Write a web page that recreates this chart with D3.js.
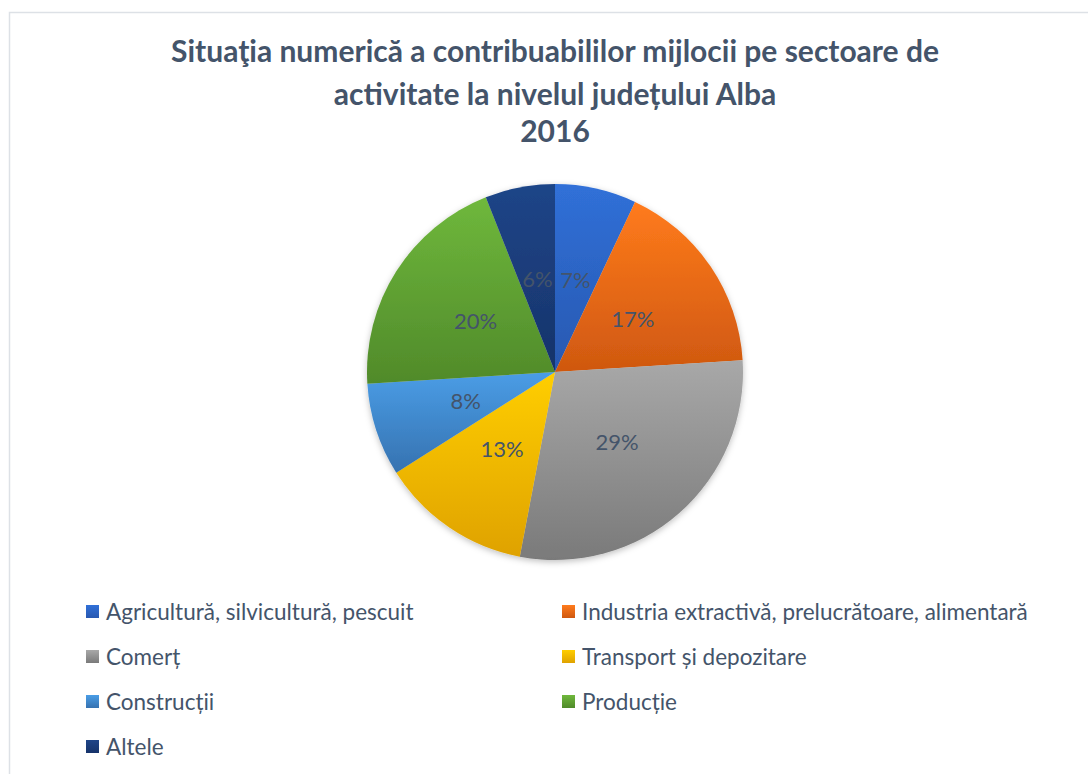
<!DOCTYPE html>
<html>
<head>
<meta charset="utf-8">
<script src="https://cdn.jsdelivr.net/npm/d3@7"></script>
<style>
  body { margin: 0; background: #fff; }
  svg { display: block; font-family: Lato, "Open Sans", sans-serif; }
</style>
</head>
<body>
<div id="chart"></div>
<script>
const titleLines = ["Situaţia numerică a contribuabililor mijlocii pe sectoare de", "activitate la nivelul județului Alba", "2016"];
const sectors = ["Agricultură, silvicultură, pescuit", "Industria extractivă, prelucrătoare, alimentară", "Comerț", "Transport și depozitare", "Construcții", "Producție", "Altele"];
const shares = [7, 17, 29, 13, 8, 20, 6];
const lightColors = ["#3070d8", "#ff7b1c", "#a8a8a8", "#ffce00", "#4a9de6", "#6fb83c", "#1f4588"];
const darkColors = ["#2858b0", "#cf5810", "#7a7a7a", "#dfa200", "#3672b0", "#508a2a", "#16336a"];

const width = 1088, height = 774;
const cx = 555, cy = 372, radius = 188;
const textColor = "#44546a";

const svg = d3.select("#chart").append("svg")
  .attr("width", width)
  .attr("height", height);

// chart area border (cut off at right and bottom)
svg.append("rect")
  .attr("x", 9.5).attr("y", 12.5)
  .attr("width", width + 20).attr("height", height + 20)
  .attr("fill", "#fff")
  .attr("stroke", "#dde1e6")
  .attr("stroke-width", 1.5);

const defs = svg.append("defs");

lightColors.forEach((c, i) => {
  const g = defs.append("linearGradient")
    .attr("id", "grad" + i)
    .attr("x1", 0).attr("y1", 0).attr("x2", 0).attr("y2", 1);
  g.append("stop").attr("offset", "0%").attr("stop-color", c);
  g.append("stop").attr("offset", "100%").attr("stop-color", darkColors[i]);
});

const shadow = defs.append("filter")
  .attr("id", "shadow")
  .attr("x", "-10%").attr("y", "-10%").attr("width", "120%").attr("height", "120%");
shadow.append("feDropShadow")
  .attr("dx", 0).attr("dy", 2)
  .attr("stdDeviation", 3)
  .attr("flood-color", "#000")
  .attr("flood-opacity", 0.25);

// title
svg.append("text")
  .attr("x", 555)
  .attr("y", 62)
  .attr("text-anchor", "middle")
  .attr("font-size", "30px")
  .attr("font-weight", "bold")
  .attr("fill", textColor)
  .selectAll("tspan")
  .data(titleLines)
  .enter()
  .append("tspan")
  .attr("x", 555)
  .attr("dy", (d, i) => i === 0 ? 0 : (i === 1 ? 43 : 37))
  .text(d => d);

const pie = d3.pie().sort(null).value(d => d);
const arc = d3.arc().innerRadius(0).outerRadius(radius);

const g = svg.append("g")
  .attr("transform", `translate(${cx},${cy})`);

const slices = g.append("g").attr("filter", "url(#shadow)");

slices.selectAll("path")
  .data(pie(shares))
  .enter()
  .append("path")
  .attr("d", arc)
  .attr("fill", (d, i) => `url(#grad${i})`);

g.selectAll("text")
  .data(pie(shares))
  .enter()
  .append("text")
  .attr("transform", d => `translate(${arc.centroid(d)})`)
  .attr("text-anchor", "middle")
  .attr("dy", "0.35em")
  .attr("font-size", "22px")
  .attr("fill", textColor)
  .text(d => d.data + "%");

// legend
const legend = svg.append("g");
const legendItems = legend.selectAll("g")
  .data(sectors)
  .enter()
  .append("g")
  .attr("transform", (d, i) => `translate(${i % 2 === 0 ? 86 : 562}, ${612 + Math.floor(i / 2) * 45})`);

legendItems.append("rect")
  .attr("x", 0).attr("y", -7)
  .attr("width", 13).attr("height", 13)
  .attr("fill", (d, i) => `url(#grad${i})`);

legendItems.append("text")
  .attr("x", 20)
  .attr("dy", "0.35em")
  .attr("font-size", "22.5px")
  .attr("fill", textColor)
  .text(d => d);
</script>
</body>
</html>
